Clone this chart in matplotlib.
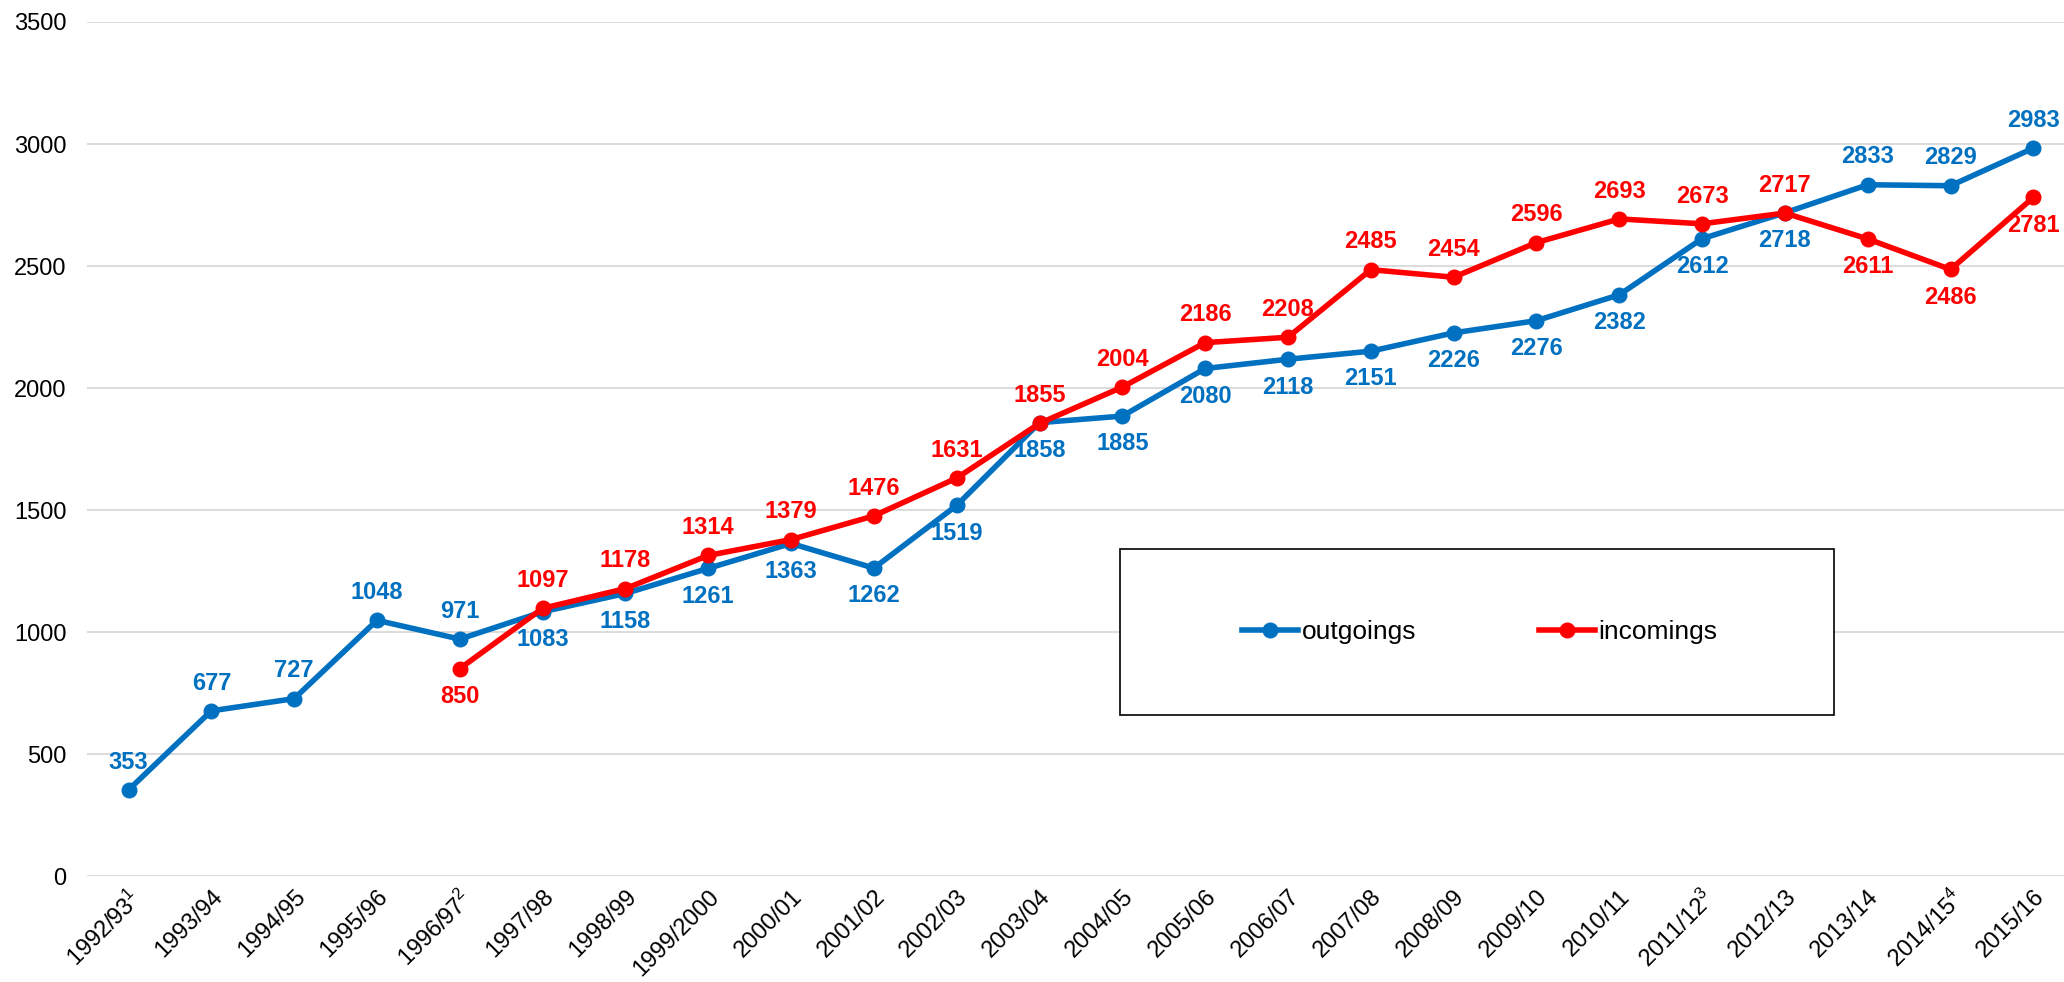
import numpy as np
import matplotlib.pyplot as plt
from matplotlib.patches import Rectangle

plt.rcParams['font.family'] = ['Liberation Sans', 'DejaVu Sans']
plt.rcParams['mathtext.fontset'] = 'custom'
plt.rcParams['mathtext.rm'] = 'Liberation Sans'

years = ['1992/93$^{\\mathregular{1}}$', '1993/94', '1994/95', '1995/96', '1996/97$^{\\mathregular{2}}$',
         '1997/98', '1998/99', '1999/2000', '2000/01', '2001/02', '2002/03', '2003/04',
         '2004/05', '2005/06', '2006/07', '2007/08', '2008/09', '2009/10', '2010/11',
         '2011/12$^{\\mathregular{3}}$', '2012/13', '2013/14', '2014/15$^{\\mathregular{4}}$', '2015/16']
outgoings = [353, 677, 727, 1048, 971, 1083, 1158, 1261, 1363, 1262, 1519, 1858,
             1885, 2080, 2118, 2151, 2226, 2276, 2382, 2612, 2718, 2833, 2829, 2983]
incomings = [np.nan, np.nan, np.nan, np.nan, 850, 1097, 1178, 1314, 1379, 1476, 1631, 1855,
             2004, 2186, 2208, 2485, 2454, 2596, 2693, 2673, 2717, 2611, 2486, 2781]
# label placement: 1 = above the point, -1 = below
out_pos = [1, 1, 1, 1, 1, -1, -1, -1, -1, -1, -1, -1,
           -1, -1, -1, -1, -1, -1, -1, -1, -1, 1, 1, 1]
in_pos = [0, 0, 0, 0, -1, 1, 1, 1, 1, 1, 1, 1,
          1, 1, 1, 1, 1, 1, 1, 1, 1, -1, -1, -1]

blue = '#0070C0'
red = '#FF0000'

fig = plt.figure(figsize=(20.64, 9.82), dpi=100)
ax = fig.add_axes([0.0422, 0.1079, 0.9578, 0.8697])

x = np.arange(len(years))
ax.plot(x, outgoings, color=blue, lw=4, marker='o', ms=10.5, label='outgoings', zorder=3)
ax.plot(x, incomings, color=red, lw=4, marker='o', ms=10.5, label='incomings', zorder=4)

for i in range(len(years)):
    ax.annotate(str(outgoings[i]), (x[i], outgoings[i]), xytext=(0, 20 * out_pos[i]),
                textcoords='offset points', ha='center', va='center',
                color=blue, fontsize=17, fontweight='bold', zorder=5)
    if in_pos[i] != 0:
        ax.annotate(str(int(incomings[i])), (x[i], incomings[i]), xytext=(0, 20 * in_pos[i]),
                    textcoords='offset points', ha='center', va='center',
                    color=red, fontsize=17, fontweight='bold', zorder=5)

ax.set_xlim(-0.5, 23.37)
ax.set_ylim(0, 3500)
ax.set_yticks(range(0, 3501, 500))
ax.set_xticks(x)
ax.set_xticklabels(years, rotation=45, ha='right', va='top', rotation_mode='anchor')
ax.tick_params(axis='y', length=0, pad=15, labelsize=17)
ax.tick_params(axis='x', length=0, pad=7, labelsize=17)
ax.grid(axis='y', color='#D9D9D9', lw=1.3)
ax.set_axisbelow(True)
for s in ax.spines.values():
    s.set_visible(False)

# legend box
ax.add_patch(Rectangle((0.5225, 0.1885), 0.3612, 0.1944, transform=ax.transAxes,
                       facecolor='white', edgecolor='black', lw=1.2, zorder=6))
ax.legend(loc='center', bbox_to_anchor=(0.7046, 0.2857), ncol=2, frameon=False,
          fontsize=19, handlelength=2.1, handletextpad=0.15, columnspacing=4.66).set_zorder(7)

fig.savefig('out.png', dpi=100)
